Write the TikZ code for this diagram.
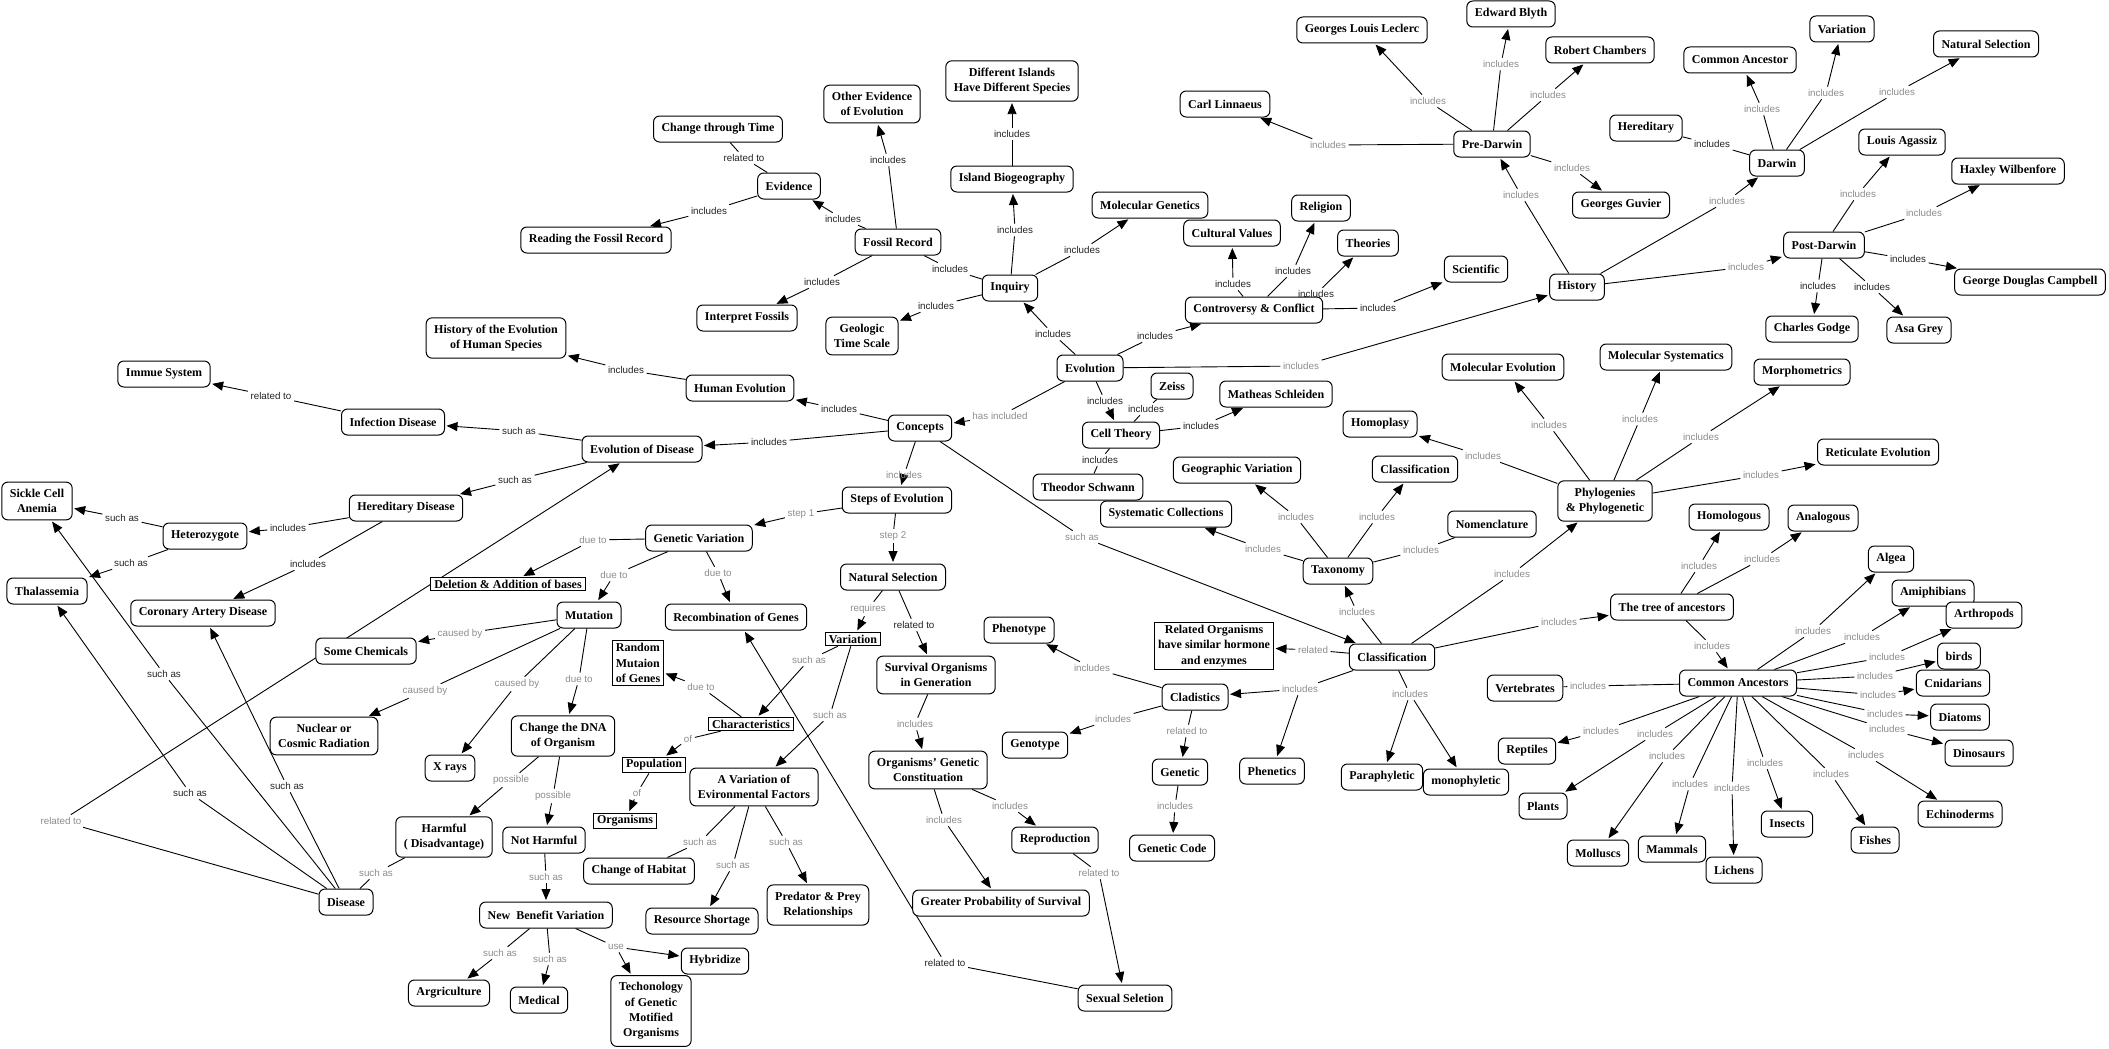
\documentclass[tikz,border=0pt]{standalone}
\usepackage{fontspec}
\setmainfont{Liberation Serif}
\newfontfamily\labfont{Liberation Sans}
\usetikzlibrary{arrows.meta}
\definecolor{labgray}{RGB}{140,140,140}
\definecolor{labblk}{RGB}{35,35,35}
\pgfdeclarelayer{bg}
\pgfsetlayers{bg,main}
\newcommand\lkA[3]{\draw[ln] (#1) -- (#2); \draw[ar] (#2) -- (#3);}
\newcommand\lkP[3]{\draw[ln] (#1) -- (#2); \draw[ln] (#2) -- (#3);}
\begin{document}
\begin{tikzpicture}[x=1pt,y=-1pt,
 cbox/.style={draw, rounded corners=6pt, line width=1pt, fill=white, inner xsep=8pt, inner ysep=7pt, minimum height=26pt, align=center, font=\fontsize{12}{15.3}\selectfont\bfseries},
 rbox/.style={draw, line width=1pt, fill=white, inner xsep=3.5pt, inner ysep=2.5pt, align=center, font=\fontsize{12}{15.3}\selectfont\bfseries},
 lb/.style={inner sep=2.5pt, font=\labfont\fontsize{9.8}{11}\selectfont, text=labblk},
 lg/.style={lb, text=labgray},
 ln/.style={line width=0.9pt},
 ar/.style={ln, -{Triangle[length=11pt,width=9pt]}, shorten >=1.5pt}]
\useasboundingbox (0,0) rectangle (2109,1049);
% ---------- concepts ----------
\node[cbox] (dif) at (1012,81) {Different Islands\\Have Different Species};
\node[cbox] (oth) at (872,104) {Other Evidence\\of Evolution};
\node[cbox] (chg) at (718,129) {Change through Time};
\node[cbox] (evd) at (789,186) {Evidence};
\node[cbox] (rfr) at (596,240) {Reading the Fossil Record};
\node[cbox] (fos) at (898,242) {Fossil Record};
\node[cbox] (isl) at (1012,179) {Island Biogeography};
\node[cbox] (inq) at (1010,288) {Inquiry};
\node[cbox] (ipf) at (747,318) {Interpret Fossils};
\node[cbox] (geo) at (862,336) {Geologic\\Time Scale};
\node[cbox] (hhs) at (496,338) {History of the Evolution\\of Human Species};
\node[cbox] (gll) at (1362,30) {Georges Louis Leclerc};
\node[cbox] (eb) at (1511,14) {Edward Blyth};
\node[cbox] (rc) at (1600,50) {Robert Chambers};
\node[cbox] (cl) at (1225,104) {Carl Linnaeus};
\node[cbox] (pre) at (1492,144) {Pre-Darwin};
\node[cbox] (mg) at (1150,205) {Molecular Genetics};
\node[cbox] (cv) at (1232,233) {Cultural Values};
\node[cbox] (rel) at (1321,208) {Religion};
\node[cbox] (the) at (1368,243) {Theories};
\node[cbox] (sci) at (1476,269) {Scientific};
\node[cbox] (cc) at (1254,310) {Controversy \& Conflict};
\node[cbox] (his) at (1577,287) {History};
\node[cbox] (var1) at (1842,29) {Variation};
\node[cbox] (ns1) at (1986,44) {Natural Selection};
\node[cbox] (ca1) at (1740,60) {Common Ancestor};
\node[cbox] (her) at (1646,128) {Hereditary};
\node[cbox] (dar) at (1777,163) {Darwin};
\node[cbox] (la) at (1902,142) {Louis Agassiz};
\node[cbox] (hw) at (2008,171) {Haxley Wilbenfore};
\node[cbox] (gg) at (1621,205) {Georges Guvier};
\node[cbox] (post) at (1824,245) {Post-Darwin};
\node[cbox] (gdc) at (2030,282) {George Douglas Campbell};
\node[cbox] (cg) at (1812,329) {Charles Godge};
\node[cbox] (ag) at (1919,330) {Asa Grey};
\node[cbox] (ms) at (1666,357) {Molecular Systematics};
\node[cbox] (mor) at (1802,372) {Morphometrics};
\node[cbox] (ret) at (1878,452) {Reticulate Evolution};
\node[cbox] (phy) at (1605,501) {Phylogenies\\\& Phylogenetic};
\node[cbox] (hom) at (1729,517) {Homologous};
\node[cbox] (ana) at (1823,518) {Analogous};
\node[cbox] (alg) at (1891,559) {Algea};
\node[cbox] (amp) at (1933,593) {Amiphibians};
\node[cbox] (art) at (1984,615) {Arthropods};
\node[cbox] (bir) at (1959,656) {birds};
\node[cbox] (cni) at (1953,683) {Cnidarians};
\node[cbox] (tree) at (1672,607) {The tree of ancestors};
\node[cbox] (cas) at (1738,683) {Common Ancestors};
\node[cbox] (dia) at (1960,717) {Diatoms};
\node[cbox] (din) at (1979,753) {Dinosaurs};
\node[cbox] (ech) at (1960,814) {Echinoderms};
\node[cbox] (fis) at (1875,840) {Fishes};
\node[cbox] (ins) at (1787,824) {Insects};
\node[cbox] (lic) at (1734,870) {Lichens};
\node[cbox] (mam) at (1672,849) {Mammals};
\node[cbox] (mol) at (1598,853) {Molluscs};
\node[cbox] (cla) at (1195,697) {Cladistics};
\node[cbox] (gty) at (1035,745) {Genotype};
\node[cbox] (gen) at (1180,772) {Genetic};
\node[cbox] (phe) at (1272,771) {Phenetics};
\node[cbox] (par) at (1382,777) {Paraphyletic};
\node[cbox] (mon) at (1466,782) {monophyletic};
\node[cbox] (rep) at (1527,751) {Reptiles};
\node[cbox] (pla) at (1543,806) {Plants};
\node[cbox] (gc) at (1172,848) {Genetic Code};
\node[cbox] (repr) at (1055,840) {Reproduction};
\node[cbox] (gps) at (1001,903) {Greater Probability of Survival};
\node[cbox] (ss) at (1125,998) {Sexual Seletion};
\node[cbox] (evo) at (1090,368) {Evolution};
\node[cbox] (zei) at (1172,386) {Zeiss};
\node[cbox] (msch) at (1276,394) {Matheas Schleiden};
\node[cbox] (ct) at (1121,435) {Cell Theory};
\node[cbox] (ts) at (1088,487) {Theodor Schwann};
\node[cbox] (gv) at (1237,470) {Geographic Variation};
\node[cbox] (sc) at (1166,514) {Systematic Collections};
\node[cbox] (hpl) at (1380,424) {Homoplasy};
\node[cbox] (clu) at (1415,469) {Classification};
\node[cbox] (nom) at (1492,524) {Nomenclature};
\node[cbox] (me) at (1503,367) {Molecular Evolution};
\node[cbox] (tax) at (1338,571) {Taxonomy};
\node[rbox] (ro) at (1214,646) {Related Organisms\\have similar hormone\\and enzymes};
\node[cbox] (cll) at (1392,657) {Classification};
\node[cbox] (vert) at (1525,688) {Vertebrates};
\node[cbox] (pht) at (1019,630) {Phenotype};
\node[cbox] (he) at (740,388) {Human Evolution};
\node[cbox] (con) at (920,428) {Concepts};
\node[cbox] (eod) at (642,449) {Evolution of Disease};
\node[cbox] (soe) at (897,500) {Steps of Evolution};
\node[cbox] (gvar) at (699,538) {Genetic Variation};
\node[rbox] (del) at (508,584) {Deletion \& Addition of bases};
\node[cbox] (ns2) at (893,577) {Natural Selection};
\node[cbox] (mut) at (589,615) {Mutation};
\node[cbox] (rog) at (736,617) {Recombination of Genes};
\node[rbox] (var2) at (853,639) {Variation};
\node[rbox, align=left] (rmg) at (638,663) {Random\\Mutaion\\of Genes};
\node[cbox] (sog) at (936,675) {Survival Organisms\\in Generation};
\node[cbox] (cdna) at (563,736) {Change the DNA\\of Organism};
\node[rbox] (chr) at (751,724) {Characteristics};
\node[rbox] (pop) at (654,765) {Population};
\node[cbox] (avef) at (754,787) {A Variation of\\Evironmental Factors};
\node[rbox] (org) at (625,821) {Organisms};
\node[cbox] (ogc) at (928,770) {Organisms' Genetic\\Constituation};
\node[cbox] (nh) at (544,840) {Not Harmful};
\node[cbox] (coh) at (639,871) {Change of Habitat};
\node[cbox] (rs) at (702,921) {Resource Shortage};
\node[cbox] (pp) at (818,905) {Predator \& Prey\\Relationships};
\node[cbox] (nbv) at (546,915) {New\ \ Benefit Variation};
\node[cbox] (hyb) at (715,961) {Hybridize};
\node[cbox] (tech) at (651,1011) {Techonology\\of Genetic\\Motified\\Organisms};
\node[cbox] (med) at (539,1000) {Medical};
\node[cbox] (ncr) at (324,736) {Nuclear or\\Cosmic Radiation};
\node[cbox] (xr) at (450,768) {X rays};
\node[cbox] (harm) at (444,837) {Harmful\\( Disadvantage)};
\node[cbox] (dis) at (346,902) {Disease};
\node[cbox] (agr) at (449,993) {Argriculture};
\node[cbox] (imm) at (164,374) {Immue System};
\node[cbox] (inf) at (393,422) {Infection Disease};
\node[cbox] (sca) at (37,501) {Sickle Cell\\Anemia};
\node[cbox] (hd) at (406,508) {Hereditary Disease};
\node[cbox] (het) at (205,536) {Heterozygote};
\node[cbox] (tha) at (47,591) {Thalassemia};
\node[cbox] (cad) at (203,613) {Coronary Artery Disease};
\node[cbox] (sch) at (366,651) {Some Chemicals};
% ---------- linking phrases ----------
\node[lb] (l1) at (744,158) {related to};
\node[lb] (l2) at (709,211) {includes};
\node[lb] (l3) at (843,219) {includes};
\node[lb] (l4) at (888,160) {includes};
\node[lb] (l5) at (822,282) {includes};
\node[lb] (l6) at (950,269) {includes};
\node[lb] (l7) at (936,306) {includes};
\node[lb] (l8) at (1015,230) {includes};
\node[lb] (l9) at (1012,134) {includes};
\node[lb] (l10) at (1053,334) {includes};
\node[lb] (l11) at (1082,250) {includes};
\node[lb] (l12) at (1233,284) {includes};
\node[lb] (l13) at (1293,271) {includes};
\node[lb] (l14) at (1316,294) {includes};
\node[lb] (l15) at (1378,308) {includes};
\node[lb] (l16) at (1155,336) {includes};
\node[lg] (l17) at (1301,366) {includes};
\node[lg] (l18) at (1521,195) {includes};
\node[lg] (l19) at (1328,145) {includes};
\node[lg] (l20) at (1428,101) {includes};
\node[lg] (l21) at (1501,64) {includes};
\node[lg] (l22) at (1548,95) {includes};
\node[lg] (l23) at (1572,168) {includes};
\node[lb] (l24) at (1712,144) {includes};
\node[lg] (l25) at (1762,109) {includes};
\node[lg] (l26) at (1826,93) {includes};
\node[lg] (l27) at (1897,92) {includes};
\node[lg] (l28) at (1727,201) {includes};
\node[lg] (l29) at (1746,267) {includes};
\node[lg] (l30) at (1858,194) {includes};
\node[lg] (l31) at (1924,213) {includes};
\node[lb] (l32) at (1908,259) {includes};
\node[lb] (l33) at (1818,286) {includes};
\node[lb] (l34) at (1872,287) {includes};
\node[lb] (l35) at (1105,401) {includes};
\node[lb] (l36) at (1146,409) {includes};
\node[lb] (l37) at (1201,426) {includes};
\node[lb] (l38) at (1100,460) {includes};
\node[lg] (l39) at (1082,537) {such as};
\node[lg] (l40) at (1296,517) {includes};
\node[lg] (l41) at (1377,517) {includes};
\node[lg] (l42) at (1263,549) {includes};
\node[lg] (l43) at (1421,550) {includes};
\node[lg] (l44) at (1357,612) {includes};
\node[lg] (l45) at (1512,574) {includes};
\node[lg] (l46) at (1559,622) {includes};
\node[lg] (l47) at (1313,650) {related};
\node[lg] (l48) at (1300,689) {includes};
\node[lg] (l49) at (1410,694) {includes};
\node[lg] (l50) at (1549,425) {includes};
\node[lg] (l51) at (1483,456) {includes};
\node[lg] (l52) at (1092,668) {includes};
\node[lg] (l53) at (1113,719) {includes};
\node[lg] (l54) at (1187,731) {related to};
\node[lg] (l55) at (1175,806) {includes};
\node[lg] (l56) at (1099,873) {related to};
\node[lb] (l57) at (945,963) {related to};
\node[lg] (l58) at (1640,419) {includes};
\node[lg] (l59) at (1701,437) {includes};
\node[lg] (l60) at (1761,475) {includes};
\node[lg] (l61) at (1699,566) {includes};
\node[lg] (l62) at (1762,559) {includes};
\node[lg] (l63) at (1712,646) {includes};
\node[lg] (l64) at (1813,631) {includes};
\node[lg] (l65) at (1862,637) {includes};
\node[lg] (l66) at (1887,657) {includes};
\node[lg] (l67) at (1875,676) {includes};
\node[lg] (l68) at (1878,695) {includes};
\node[lg] (l69) at (1885,714) {includes};
\node[lg] (l70) at (1887,729) {includes};
\node[lg] (l71) at (1866,755) {includes};
\node[lg] (l72) at (1831,774) {includes};
\node[lg] (l73) at (1765,763) {includes};
\node[lg] (l74) at (1732,788) {includes};
\node[lg] (l75) at (1690,784) {includes};
\node[lg] (l76) at (1667,756) {includes};
\node[lg] (l77) at (1655,734) {includes};
\node[lg] (l78) at (1601,731) {includes};
\node[lg] (l79) at (1588,686) {includes};
\node[lb] (l80) at (839,409) {includes};
\node[lb] (l81) at (626,370) {includes};
\node[lb] (l82) at (769,442) {includes};
\node[lg] (l83) at (1000,416) {has included};
\node[lg] (l84) at (904,475) {includes};
\node[lg] (l85) at (801,514) {step 1};
\node[lg] (l86) at (893,536) {step 2};
\node[lg] (l87) at (593,540) {due to};
\node[lg] (l88) at (614,575) {due to};
\node[lg] (l89) at (718,573) {due to};
\node[lg] (l90) at (868,609) {requires};
\node[lb] (l91) at (914,625) {related to};
\node[lg] (l92) at (809,660) {such as};
\node[lg] (l93) at (830,715) {such as};
\node[lg] (l94) at (701,687) {due to};
\node[lg] (l95) at (688,739) {of};
\node[lg] (l96) at (637,793) {of};
\node[lg] (l97) at (915,724) {includes};
\node[lg] (l98) at (1010,806) {includes};
\node[lg] (l99) at (944,820) {includes};
\node[lg] (l100) at (700,842) {such as};
\node[lg] (l101) at (733,865) {such as};
\node[lg] (l102) at (786,842) {such as};
\node[lg] (l103) at (511,780) {possible};
\node[lg] (l104) at (553,796) {possible};
\node[lg] (l105) at (546,877) {such as};
\node[lg] (l106) at (500,953) {such as};
\node[lg] (l107) at (550,959) {such as};
\node[lg] (l108) at (616,947) {use};
\node[lg] (l109) at (579,679) {due to};
\node[lg] (l110) at (460,634) {caused by};
\node[lg] (l111) at (425,691) {caused by};
\node[lg] (l112) at (517,684) {caused by};
\node[lb] (l113) at (271,396) {related to};
\node[lb] (l114) at (519,431) {such as};
\node[lb] (l115) at (515,480) {such as};
\node[lb] (l116) at (288,528) {includes};
\node[lb] (l117) at (308,564) {includes};
\node[lb] (l118) at (122,518) {such as};
\node[lb] (l119) at (131,563) {such as};
\node[lb] (l120) at (164,674) {such as};
\node[lb] (l121) at (190,793) {such as};
\node[lb] (l122) at (287,786) {such as};
\node[lg] (l123) at (61,821) {related to};
\node[lg] (l124) at (376,873) {such as};
% ---------- connectors ----------
\begin{pgfonlayer}{bg}
\lkP{evd}{l1}{chg}
\lkA{evd}{l2}{rfr}
\lkA{fos}{l3}{evd}
\lkA{fos}{l4}{oth}
\lkA{fos}{l5}{ipf}
\lkP{inq}{l6}{fos}
\lkA{inq}{l7}{geo}
\lkA{inq}{l8}{isl}
\lkA{isl}{l9}{dif}
\lkA{evo}{l10}{inq}
\lkA{inq}{l11}{mg}
\lkA{cc}{l12}{cv}
\lkA{cc}{l13}{rel}
\lkA{cc}{l14}{the}
\lkA{cc}{l15}{sci}
\lkA{evo}{l16}{cc}
\lkA{evo}{l17}{his}
\lkA{his}{l18}{pre}
\lkA{pre}{l19}{cl}
\lkA{pre}{l20}{gll}
\lkA{pre}{l21}{eb}
\lkA{pre}{l22}{rc}
\lkA{pre}{l23}{gg}
\lkP{dar}{l24}{her}
\lkA{dar}{l25}{ca1}
\lkA{dar}{l26}{var1}
\lkA{dar}{l27}{ns1}
\lkA{his}{l28}{dar}
\lkA{his}{l29}{post}
\lkA{post}{l30}{la}
\lkA{post}{l31}{hw}
\lkA{post}{l32}{gdc}
\lkA{post}{l33}{cg}
\lkA{post}{l34}{ag}
\lkA{evo}{l35}{ct}
\lkP{ct}{l36}{zei}
\lkA{ct}{l37}{msch}
\lkP{ct}{l38}{ts}
\lkA{con}{l39}{cll}
\lkA{tax}{l40}{gv}
\lkA{tax}{l41}{clu}
\lkA{tax}{l42}{sc}
\lkP{tax}{l43}{nom}
\lkA{cll}{l44}{tax}
\lkA{cll}{l45}{phy}
\lkA{cll}{l46}{tree}
\lkA{cll}{l47}{ro}
\lkA{cll}{l48}{cla}
\draw[ar] (l48) -- (phe);
\lkA{cll}{l49}{par}
\draw[ar] (l49) -- (mon);
\lkA{phy}{l50}{me}
\lkA{phy}{l51}{hpl}
\lkA{cla}{l52}{pht}
\lkA{cla}{l53}{gty}
\lkA{cla}{l54}{gen}
\lkA{gen}{l55}{gc}
\lkA{repr}{l56}{ss}
\lkA{ss}{l57}{rog}
\lkA{phy}{l58}{ms}
\lkA{phy}{l59}{mor}
\lkA{phy}{l60}{ret}
\lkA{tree}{l61}{hom}
\lkA{tree}{l62}{ana}
\lkA{tree}{l63}{cas}
\lkA{cas}{l64}{alg}
\lkA{cas}{l65}{amp}
\lkA{cas}{l66}{art}
\lkA{cas}{l67}{bir}
\lkA{cas}{l68}{cni}
\lkA{cas}{l69}{dia}
\lkA{cas}{l70}{din}
\lkA{cas}{l71}{ech}
\lkA{cas}{l72}{fis}
\lkA{cas}{l73}{ins}
\lkA{cas}{l74}{lic}
\lkA{cas}{l75}{mam}
\lkA{cas}{l76}{mol}
\lkA{cas}{l77}{pla}
\lkA{cas}{l78}{rep}
\lkP{vert}{l79}{cas}
\lkA{con}{l80}{he}
\lkA{he}{l81}{hhs}
\lkA{con}{l82}{eod}
\lkA{evo}{l83}{con}
\lkA{con}{l84}{soe}
\lkA{soe}{l85}{gvar}
\lkA{soe}{l86}{ns2}
\lkA{gvar}{l87}{del}
\lkA{gvar}{l88}{mut}
\lkA{gvar}{l89}{rog}
\lkA{ns2}{l90}{var2}
\lkA{ns2}{l91}{sog}
\lkA{var2}{l92}{chr}
\lkA{var2}{l93}{avef}
\lkA{chr}{l94}{rmg}
\lkA{chr}{l95}{pop}
\lkA{pop}{l96}{org}
\lkA{sog}{l97}{ogc}
\lkA{ogc}{l98}{repr}
\lkA{ogc}{l99}{gps}
\lkP{avef}{l100}{coh}
\lkA{avef}{l101}{rs}
\lkA{avef}{l102}{pp}
\lkA{cdna}{l103}{harm}
\lkA{cdna}{l104}{nh}
\lkA{nh}{l105}{nbv}
\lkA{nbv}{l106}{agr}
\lkA{nbv}{l107}{med}
\lkA{nbv}{l108}{hyb}
\draw[ar] (l108) -- (tech);
\lkA{mut}{l109}{cdna}
\lkA{mut}{l110}{sch}
\lkA{mut}{l111}{ncr}
\lkA{mut}{l112}{xr}
\lkA{inf}{l113}{imm}
\lkA{eod}{l114}{inf}
\lkA{eod}{l115}{hd}
\lkA{hd}{l116}{het}
\lkA{hd}{l117}{cad}
\lkA{het}{l118}{sca}
\lkA{het}{l119}{tha}
\lkA{dis}{l120}{sca}
\lkA{dis}{l121}{tha}
\lkA{dis}{l122}{cad}
\lkA{dis}{l123}{eod}
\lkP{harm}{l124}{dis}
\end{pgfonlayer}
\end{tikzpicture}
\end{document}
